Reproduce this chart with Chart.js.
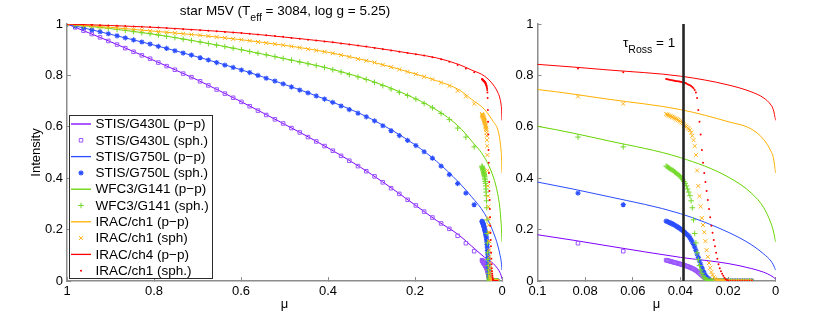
<!DOCTYPE html>
<html>
<head>
<meta charset="utf-8">
<script src="https://cdn.jsdelivr.net/npm/chart.js@4.4.1/dist/chart.umd.min.js"></script>
<style>
  html, body { margin: 0; padding: 0; background: #fff; }
  #wrap { position: relative; width: 830px; height: 316px; }
  canvas { position: absolute; left: 0; top: 0; }
</style>
</head>
<body>
<div id="wrap">
  <canvas id="fullDisk" width="830" height="316"></canvas>
  <canvas id="limbZoom" width="830" height="316"></canvas>
</div>
<script>
/* ---------- plane-parallel models (lines) ---------- */
const muPP = [1, 0.9, 0.8, 0.7, 0.6, 0.5, 0.4, 0.3, 0.2, 0.15, 0.1, 0.07, 0.04, 0.02, 0.01, 0.005, 0.002, 0.001, 0];
const ppG430 = [1, 0.931, 0.858, 0.782, 0.698, 0.61, 0.518, 0.415, 0.296, 0.235, 0.18, 0.136, 0.092, 0.068, 0.048, 0.034, 0.021, 0.015, 0.008];
const ppG750 = [1, 0.96, 0.918, 0.872, 0.822, 0.765, 0.703, 0.63, 0.53, 0.465, 0.385, 0.328, 0.262, 0.19, 0.14, 0.105, 0.078, 0.063, 0.042];
const ppG141 = [1, 0.982, 0.96, 0.932, 0.9, 0.865, 0.828, 0.778, 0.71, 0.665, 0.602, 0.545, 0.48, 0.405, 0.34, 0.285, 0.225, 0.195, 0.152];
const ppCh1 = [1, 0.987, 0.972, 0.957, 0.939, 0.917, 0.89, 0.853, 0.806, 0.779, 0.745, 0.707, 0.667, 0.62, 0.59, 0.55, 0.505, 0.48, 0.42];
const ppCh4 = [1, 0.994, 0.987, 0.977, 0.965, 0.949, 0.931, 0.909, 0.883, 0.868, 0.843, 0.821, 0.797, 0.763, 0.735, 0.712, 0.685, 0.667, 0.625];

/* ---------- spherical models (markers): disk part ---------- */
const muSphDisk = [1, 0.981, 0.962, 0.943, 0.924, 0.905, 0.885, 0.866, 0.847, 0.828, 0.809, 0.790, 0.771, 0.752, 0.733, 0.714, 0.694, 0.675, 0.656, 0.637,
  0.618, 0.599, 0.580, 0.561, 0.542, 0.522, 0.503, 0.484, 0.465, 0.446, 0.427, 0.408, 0.389, 0.370, 0.351, 0.331, 0.312, 0.293, 0.274, 0.255,
  0.236, 0.217, 0.198, 0.179, 0.160, 0.140, 0.121, 0.102, 0.083, 0.064];
const sphG430Disk = [1.000, 0.987, 0.974, 0.961, 0.948, 0.934, 0.920, 0.906, 0.892, 0.878, 0.865, 0.850, 0.836, 0.822, 0.807, 0.793, 0.777, 0.761, 0.745, 0.729,
  0.713, 0.697, 0.680, 0.663, 0.646, 0.629, 0.613, 0.595, 0.578, 0.560, 0.543, 0.525, 0.507, 0.487, 0.468, 0.447, 0.427, 0.407, 0.384, 0.361,
  0.339, 0.316, 0.294, 0.270, 0.247, 0.224, 0.203, 0.176, 0.147, 0.116];
const sphG750Disk = [1.000, 0.992, 0.985, 0.977, 0.970, 0.962, 0.954, 0.946, 0.938, 0.930, 0.922, 0.913, 0.905, 0.896, 0.887, 0.879, 0.869, 0.860, 0.850, 0.840,
  0.831, 0.821, 0.811, 0.800, 0.789, 0.778, 0.767, 0.755, 0.743, 0.732, 0.720, 0.708, 0.695, 0.681, 0.667, 0.653, 0.639, 0.623, 0.604, 0.585,
  0.566, 0.547, 0.527, 0.503, 0.478, 0.447, 0.414, 0.379, 0.342, 0.297];
const sphG141Disk = [1.000, 0.997, 0.993, 0.990, 0.986, 0.983, 0.979, 0.975, 0.970, 0.966, 0.962, 0.957, 0.952, 0.947, 0.941, 0.936, 0.930, 0.924, 0.918, 0.912,
  0.906, 0.900, 0.893, 0.886, 0.880, 0.873, 0.866, 0.859, 0.852, 0.845, 0.838, 0.831, 0.822, 0.813, 0.803, 0.794, 0.784, 0.773, 0.760, 0.747,
  0.734, 0.722, 0.708, 0.691, 0.674, 0.652, 0.628, 0.595, 0.560, 0.522];
const sphCh1Disk = [1.000, 0.998, 0.995, 0.993, 0.990, 0.988, 0.985, 0.982, 0.979, 0.976, 0.973, 0.970, 0.968, 0.965, 0.962, 0.959, 0.956, 0.953, 0.949, 0.946,
  0.942, 0.939, 0.935, 0.930, 0.926, 0.922, 0.918, 0.913, 0.908, 0.902, 0.897, 0.892, 0.886, 0.879, 0.872, 0.864, 0.857, 0.850, 0.841, 0.832,
  0.823, 0.814, 0.805, 0.795, 0.785, 0.772, 0.759, 0.740, 0.718, 0.690];
const sphCh4Disk = [1.000, 0.999, 0.998, 0.997, 0.995, 0.994, 0.993, 0.992, 0.990, 0.989, 0.988, 0.986, 0.984, 0.982, 0.980, 0.978, 0.976, 0.974, 0.972, 0.969,
  0.967, 0.965, 0.962, 0.959, 0.956, 0.953, 0.950, 0.946, 0.943, 0.939, 0.936, 0.932, 0.929, 0.924, 0.920, 0.916, 0.912, 0.907, 0.902, 0.897,
  0.892, 0.887, 0.882, 0.877, 0.871, 0.863, 0.853, 0.840, 0.827, 0.812];

/* ---------- spherical models (markers): limb part ---------- */
const muSphLimb = [0.046, 0.0455, 0.045, 0.0445, 0.044, 0.0435, 0.043, 0.0425, 0.042, 0.0415, 0.041, 0.0405, 0.040, 0.0395, 0.039, 0.0385, 0.038, 0.0375, 0.037, 0.0365,
  0.036, 0.0355, 0.035, 0.0345, 0.034, 0.0335, 0.033, 0.0325, 0.032, 0.0315, 0.031, 0.0305, 0.030, 0.0295, 0.029, 0.0285, 0.028, 0.0275, 0.027, 0.0265,
  0.026, 0.0255, 0.025, 0.0245, 0.024, 0.0235, 0.023, 0.0225, 0.022, 0.0215, 0.021, 0.0205, 0.020, 0.019, 0.018, 0.017, 0.016, 0.015, 0.014, 0.013,
  0.012, 0.011, 0.010];
const sphG430Limb = [0.081, 0.080, 0.079, 0.077, 0.076, 0.075, 0.073, 0.072, 0.071, 0.070, 0.068, 0.067, 0.066, 0.064, 0.063, 0.062, 0.060, 0.058, 0.057, 0.055,
  0.053, 0.051, 0.049, 0.047, 0.044, 0.041, 0.038, 0.034, 0.030, 0.026, 0.022, 0.018, 0.014, 0.011, 0.008, 0.006, 0.004, 0.003, 0.002, 0.0015,
  0.001, 0.001, 0.001, 0.001, 0.001, 0.001, 0, 0, 0, 0, 0, 0, 0, 0, 0, 0, 0, 0, 0, 0,
  0, 0, 0];
const sphG750Limb = [0.233, 0.231, 0.229, 0.227, 0.225, 0.223, 0.220, 0.218, 0.215, 0.212, 0.209, 0.206, 0.203, 0.199, 0.196, 0.192, 0.188, 0.183, 0.179, 0.174,
  0.168, 0.160, 0.152, 0.142, 0.132, 0.119, 0.105, 0.092, 0.078, 0.065, 0.052, 0.041, 0.031, 0.022, 0.015, 0.010, 0.006, 0.004, 0.002, 0.0015,
  0.001, 0.001, 0.001, 0, 0, 0, 0, 0, 0, 0, 0, 0, 0, 0, 0, 0, 0, 0, 0, 0,
  0, 0, 0];
const sphG141Limb = [0.447, 0.444, 0.441, 0.438, 0.435, 0.432, 0.429, 0.425, 0.422, 0.418, 0.414, 0.410, 0.406, 0.400, 0.394, 0.387, 0.380, 0.370, 0.358, 0.346,
  0.332, 0.312, 0.285, 0.238, 0.185, 0.148, 0.110, 0.083, 0.060, 0.043, 0.030, 0.020, 0.012, 0.008, 0.005, 0.003, 0.002, 0.001, 0.001, 0,
  0, 0, 0, 0, 0, 0, 0, 0, 0, 0, 0, 0, 0, 0, 0, 0, 0, 0, 0, 0,
  0, 0, 0];
const sphCh1Limb = [0.649, 0.647, 0.645, 0.643, 0.641, 0.639, 0.637, 0.634, 0.632, 0.629, 0.627, 0.624, 0.621, 0.617, 0.614, 0.609, 0.605, 0.601, 0.596, 0.592,
  0.587, 0.577, 0.565, 0.548, 0.525, 0.490, 0.430, 0.370, 0.330, 0.290, 0.245, 0.218, 0.190, 0.155, 0.120, 0.094, 0.070, 0.051, 0.035, 0.024,
  0.015, 0.009, 0.005, 0.003, 0.002, 0.001, 0, 0, 0, 0, 0, 0, 0, 0, 0, 0, 0, 0, 0, 0,
  0, 0, 0];
const sphCh4Limb = [0.786, 0.785, 0.784, 0.783, 0.782, 0.781, 0.780, 0.779, 0.778, 0.777, 0.777, 0.776, 0.775, 0.774, 0.772, 0.771, 0.770, 0.768, 0.766, 0.764,
  0.762, 0.759, 0.755, 0.750, 0.743, 0.733, 0.712, 0.665, 0.620, 0.570, 0.510, 0.460, 0.420, 0.385, 0.350, 0.315, 0.280, 0.248, 0.215, 0.188,
  0.160, 0.135, 0.110, 0.087, 0.065, 0.050, 0.038, 0.028, 0.020, 0.013, 0.007, 0.004, 0.002, 0, 0, 0, 0, 0, 0, 0,
  0, 0, 0];

/* ---------- tau_Ross = 1 marker ---------- */
const tauMu = [0.0387, 0.0387];
const tauI = [0, 1];

const labels = ['STIS/G430L (p\u2212p)', 'STIS/G430L (sph.)', 'STIS/G750L (p\u2212p)', 'STIS/G750L (sph.)',
  'WFC3/G141 (p\u2212p)', 'WFC3/G141 (sph.)', 'IRAC/ch1 (p\u2212p)', 'IRAC/ch1 (sph)', 'IRAC/ch4 (p\u2212p)', 'IRAC/ch1 (sph.)'];

/* ---------- styling ---------- */
const FONT = '"Liberation Sans", Arial, Helvetica, sans-serif';
Chart.defaults.font.family = FONT;
Chart.defaults.font.size = 13;
Chart.defaults.color = '#000';

const pairs = (xs, ys) => xs.map((x, i) => ({ x: x, y: ys[i] }));

const bands = [
  { color: '#7f00ff', mark: '#9a55ff', pp: ppG430, disk: sphG430Disk, limb: sphG430Limb, marker: 'rect', r: 2.5, bw: 1, fill: 'rgba(0,0,0,0)' },
  { color: '#2a4dff', mark: '#2a4dff', pp: ppG750, disk: sphG750Disk, limb: sphG750Limb, marker: 'star', r: 2.6, bw: 1.1, fill: '#2a4dff' },
  { color: '#66d400', mark: '#74d92a', pp: ppG141, disk: sphG141Disk, limb: sphG141Limb, marker: 'cross', r: 2.8, bw: 1, fill: '#74d92a' },
  { color: '#ffb000', mark: '#ffb41e', pp: ppCh1, disk: sphCh1Disk, limb: sphCh1Limb, marker: 'crossRot', r: 2.8, bw: 1, fill: '#ffb41e' },
  { color: '#ff0000', mark: '#ff0000', pp: ppCh4, disk: sphCh4Disk, limb: sphCh4Limb, marker: 'circle', r: 1, bw: 0, fill: '#ff0000' }
];

function makeSets(withTau) {
  const sets = [];
  bands.forEach((b, k) => {
    sets.push({
      label: labels[2 * k], data: pairs(muPP, b.pp),
      borderColor: b.color, borderWidth: 1, pointRadius: 0,
      cubicInterpolationMode: 'monotone', order: 20 - 2 * k
    });
    sets.push({
      label: labels[2 * k + 1], data: pairs(muSphDisk.concat(muSphLimb), b.disk.concat(b.limb)),
      showLine: false, pointStyle: b.marker, pointRadius: b.r, pointBorderWidth: b.bw,
      pointBorderColor: b.mark, pointBackgroundColor: b.fill,
      borderColor: b.mark, backgroundColor: b.fill, order: 19 - 2 * k
    });
  });
  if (withTau) {
    sets.push({ label: 'tau', data: pairs(tauMu, tauI), borderColor: '#262626', borderWidth: 2.6, pointRadius: 0, order: -1 });
  }
  return sets;
}

const tickFmt = v => String(+Number(v).toFixed(3));

function xAxis(max, step) {
  return {
    type: 'linear', reverse: true, min: 0, max: max,
    afterFit: s => { s.height = 35; },
    border: { color: '#8c8c8c', width: 1.5 },
    grid: { drawOnChartArea: false, tickLength: -4, color: '#8c8c8c' },
    ticks: { stepSize: step, padding: 7, maxRotation: 0, autoSkip: false, callback: tickFmt },
    title: { display: true, text: '\u03bc', padding: { top: 0, bottom: 4 } }
  };
}

function yAxis(width, showTitle) {
  return {
    type: 'linear', min: 0, max: 1,
    afterFit: s => { s.width = width; },
    border: { color: '#8c8c8c', width: 1.5 },
    grid: { drawOnChartArea: false, tickLength: -4, color: '#8c8c8c' },
    ticks: { stepSize: 0.2, padding: 8, callback: tickFmt },
    title: { display: showTitle, text: 'Intensity', padding: { top: 29, bottom: 0 } }
  };
}

// text with a subscript part, e.g. T_eff
function drawParts(ctx, parts, x, y, centered) {
  const main = '13.5px ' + FONT, small = '10.5px ' + FONT;
  let total = 0;
  parts.forEach(p => { ctx.font = p[1] ? small : main; total += ctx.measureText(p[0]).width; });
  let cx = centered ? x - total / 2 : x;
  ctx.textBaseline = 'alphabetic';
  ctx.textAlign = 'left';
  parts.forEach(p => {
    ctx.font = p[1] ? small : main;
    ctx.fillText(p[0], cx, p[1] ? y + 5.5 : y);
    cx += ctx.measureText(p[0]).width;
  });
}

const titlePlugin = {
  id: 'titleText',
  afterDraw(chart) {
    const ctx = chart.ctx;
    ctx.save();
    ctx.fillStyle = '#000';
    drawParts(ctx, [['star M5V (T', 0], ['eff', 1], [' = 3084, log g = 5.25)', 0]], 285, 15, true);
    ctx.restore();
  }
};

const tauPlugin = {
  id: 'tauText',
  afterDraw(chart) {
    const ctx = chart.ctx;
    ctx.save();
    ctx.fillStyle = '#000';
    drawParts(ctx, [['\u03c4', 0], ['Ross', 1], [' = 1', 0]], 623, 47, false);
    ctx.restore();
  }
};

const legendPlugin = {
  id: 'boxLegend',
  afterDatasetsDraw(chart) {
    const ctx = chart.ctx;
    ctx.save();
    ctx.fillStyle = '#fff';
    ctx.fillRect(69, 115, 143, 163);
    ctx.strokeStyle = '#2b2b2b';
    ctx.lineWidth = 1;
    ctx.strokeRect(69.5, 115.5, 143, 163);
    ctx.font = '13.5px ' + FONT;
    ctx.textBaseline = 'middle';
    ctx.textAlign = 'left';
    chart.data.datasets.slice(0, 10).forEach((ds, i) => {
      const y = 124 + i * 16.3;
      if (ds.showLine === false) {
        ctx.fillStyle = ds.pointBackgroundColor;
        ctx.strokeStyle = ds.pointBorderColor;
        ctx.lineWidth = ds.pointBorderWidth;
        Chart.helpers.drawPoint(ctx, { pointStyle: ds.pointStyle, radius: ds.pointRadius, borderWidth: ds.pointBorderWidth, rotation: 0 }, 81, y);
      } else {
        ctx.strokeStyle = ds.borderColor;
        ctx.lineWidth = 1.3;
        ctx.beginPath();
        ctx.moveTo(71, y);
        ctx.lineTo(91, y);
        ctx.stroke();
      }
      ctx.fillStyle = '#000';
      ctx.fillText(ds.label, 95.5, y + 0.5);
    });
    ctx.restore();
  }
};

new Chart(document.getElementById('fullDisk'), {
  type: 'line',
  data: { datasets: makeSets(false) },
  options: {
    responsive: false, animation: false, events: [],
    layout: { padding: { left: 0, right: 328, top: 24, bottom: 0 } },
    plugins: { legend: { display: false }, tooltip: { enabled: false } },
    scales: { x: xAxis(1, 0.2), y: yAxis(67, true) }
  },
  plugins: [legendPlugin, titlePlugin]
});

new Chart(document.getElementById('limbZoom'), {
  type: 'line',
  data: { datasets: makeSets(true) },
  options: {
    responsive: false, animation: false, events: [],
    layout: { padding: { left: 497.5, right: 54.3, top: 24, bottom: 0 } },
    plugins: { legend: { display: false }, tooltip: { enabled: false } },
    scales: { x: xAxis(0.1, 0.02), y: yAxis(40, false) }
  },
  plugins: [tauPlugin]
});
</script>
</body>
</html>
